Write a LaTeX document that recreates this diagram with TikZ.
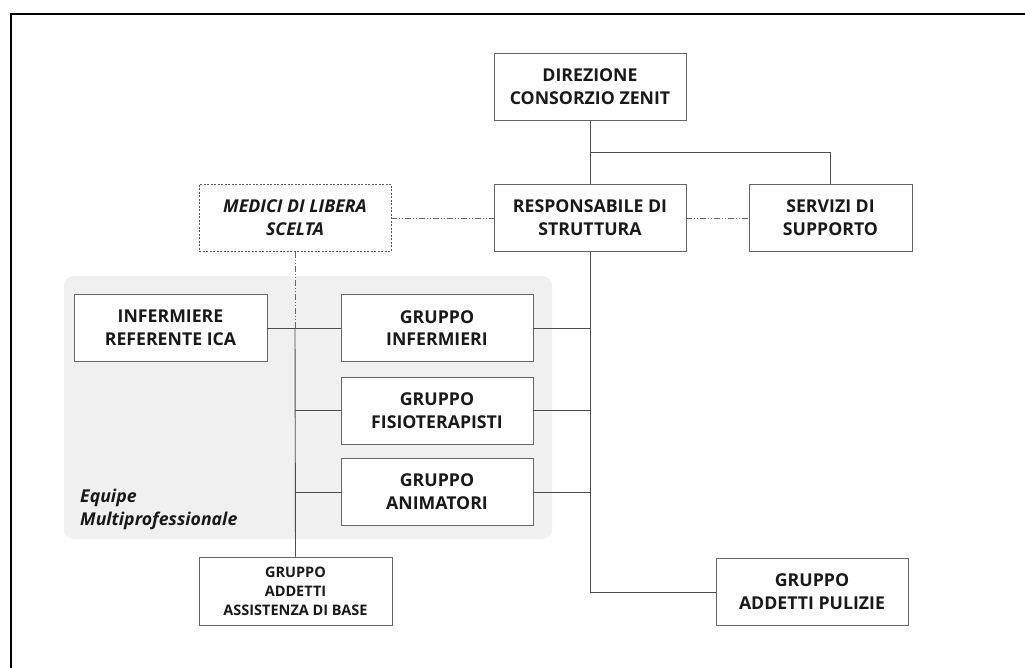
\documentclass[tikz,border=0pt]{standalone}
\usepackage{fontspec}
\setmainfont{Open Sans}
\begin{document}
\begin{tikzpicture}[x=1pt,y=-1pt,
  box/.style={draw=black!60, line width=0.9pt, fill=white, inner sep=0pt, align=center,
    minimum width=192pt, minimum height=67pt, font=\fontsize{17.7}{22.7}\selectfont\bfseries, text=black!90},
  smallbox/.style={box, font=\fontsize{14.5}{19}\selectfont\bfseries},
  medbox/.style={box, draw=black!65, dash pattern=on 2pt off 1.5pt, font=\fontsize{17.7}{22.7}\selectfont\bfseries\itshape},
  conn/.style={draw=black!70, line width=0.9pt},
  dd/.style={draw=black!60, line width=0.8pt, dash pattern=on 6pt off 2pt on 1pt off 2pt on 1pt off 2pt},
]
\useasboundingbox (0,0) rectangle (1025,668);
\begin{scope}
\clip (0,0) rectangle (1025,668);
\draw[line width=2.2pt, black] (11,14) rectangle (1100,720);
\end{scope}
% gray group background
\fill[black!6, rounded corners=10pt] (64,276) rectangle (552,539);
\node[anchor=south west, align=left, inner sep=0pt, font=\fontsize{17.7}{23}\selectfont\bfseries\itshape, text=black!90]
  (equipe) at (80,530) {Equipe\\Multiprofessionale};

\node[box] (dir) at (590,86.5) {DIREZIONE\\CONSORZIO ZENIT};
\node[box] (resp) at (590,218) {RESPONSABILE DI\\STRUTTURA};
\node[box, minimum width=163pt] (serv) at (830.5,218) {SERVIZI DI\\SUPPORTO};
\node[medbox] (med) at (295,218) {MEDICI DI LIBERA\\SCELTA};
\node[box, minimum width=193pt] (iref) at (170.5,328) {INFERMIERE\\REFERENTE ICA};
\node[box] (ginf) at (437,328) {GRUPPO\\INFERMIERI};
\node[box] (gfis) at (437,410.5) {GRUPPO\\FISIOTERAPISTI};
\node[box] (gani) at (437,492) {GRUPPO\\ANIMATORI};
\node[smallbox, minimum width=193pt, minimum height=68pt] (gass) at (295.5,591) {GRUPPO\\ADDETTI\\ASSISTENZA DI BASE};
\node[box] (gpul) at (812,592) {GRUPPO\\ADDETTI PULIZIE};

\coordinate (j1) at (590,152);
\coordinate (jl) at (med.south |- iref.east);
\coordinate (jr) at (resp.south |- gpul.west);

\draw[conn] (dir.south) -- (resp.north);
\draw[conn] (j1) -| (serv.north);
\draw[dd] (med.east) -- (resp.west);
\draw[dd] (resp.east) -- (serv.west);
\draw[dd] (med.south) -- (jl);
\draw[conn] (iref.east) -- (ginf.west);
\draw[conn] (jl) -- (gass.north);
\draw[conn] (jl |- gfis.west) -- (gfis.west);
\draw[conn] (jl |- gani.west) -- (gani.west);
\draw[conn] (resp.south) -- (jr) -- (gpul.west);
\draw[conn] (ginf.east) -- (ginf.east -| resp.south);
\draw[conn] (gfis.east) -- (gfis.east -| resp.south);
\draw[conn] (gani.east) -- (gani.east -| resp.south);
\end{tikzpicture}
\end{document}
